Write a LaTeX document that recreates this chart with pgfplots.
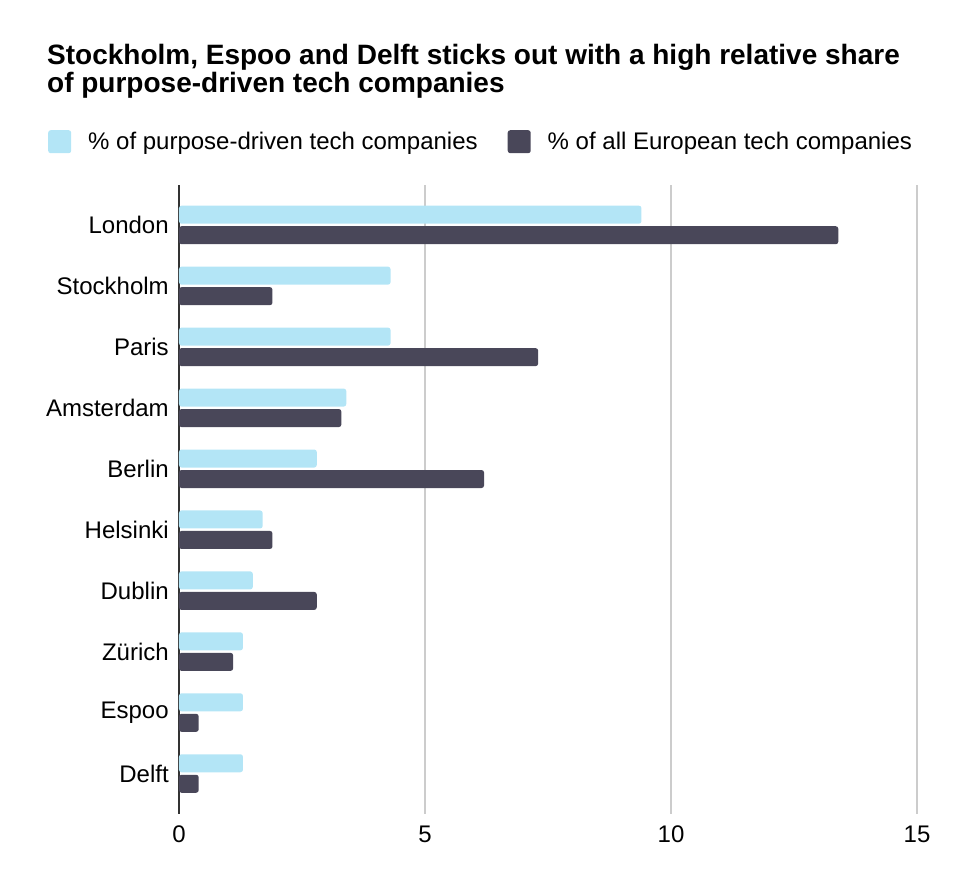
\documentclass[border=0pt]{standalone}
\usepackage{fontspec}
\setmainfont{Liberation Sans}
\usepackage{pgfplots}
\pgfplotsset{compat=1.18}
\definecolor{lightb}{RGB}{179,229,246}
\definecolor{darkb}{RGB}{73,71,89}
\definecolor{gridc}{RGB}{204,204,204}
\begin{document}
\begin{tikzpicture}
\useasboundingbox (0pt,0pt) rectangle (962pt,896pt);
\node[anchor=base west,align=left,inner sep=0,font=\fontsize{28}{28}\selectfont\bfseries] at (47pt,803pt)
  {Stockholm, Espoo and Delft sticks out with a high relative share\\of purpose-driven tech companies};
\begin{axis}[
  at={(179pt,82pt)}, anchor=south west,
  scale only axis, width=738pt, height=629pt,
  xmin=0, xmax=15, ymin=-0.66, ymax=9.66,
  xtick={0,5,10,15},
  ytick={0,...,9},
  yticklabels={Delft,Espoo,Zürich,Dublin,Helsinki,Berlin,Amsterdam,Paris,Stockholm,London},
  tick style={draw=none},
  /pgf/number format/assume math mode=true,
  ticklabel style={font=\fontsize{24}{28}\selectfont},
  yticklabel style={xshift=-2.5pt},
  xticklabel style={yshift=-6.5pt},
  axis lines=left,
  x axis line style={draw=none},
  y axis line style={-, draw=black!80, line width=1.3pt},
  xmajorgrids, grid style={gridc, line width=1.2pt},
  xbar, bar width=18pt,
  legend columns=2,
  legend style={at={(-0.1775,1.0874)}, anchor=north west, draw=none, fill=none, inner sep=0pt,
    font=\fontsize{24}{28}\selectfont, column sep=0pt,
    /tikz/every even column/.style={column sep=28pt}},
  legend image code/.code={\fill[#1] (0pt,-11.5pt) rectangle (23pt,11.5pt);},
]
\addplot[fill=lightb, draw=none, rounded corners=2.5pt, bar shift=10.5pt] coordinates {
(1.3,0) (1.3,1) (1.3,2) (1.5,3) (1.7,4) (2.8,5) (3.4,6) (4.3,7) (4.3,8) (9.4,9)};
\addplot[fill=darkb, draw=none, rounded corners=2.5pt, bar shift=-10pt] coordinates {
(0.4,0) (0.4,1) (1.1,2) (2.8,3) (1.9,4) (6.2,5) (3.3,6) (7.3,7) (1.9,8) (13.4,9)};
\legend{\hspace{15pt}\% of purpose-driven tech companies,\hspace{15pt}\% of all European tech companies}
\end{axis}
\end{tikzpicture}
\end{document}
